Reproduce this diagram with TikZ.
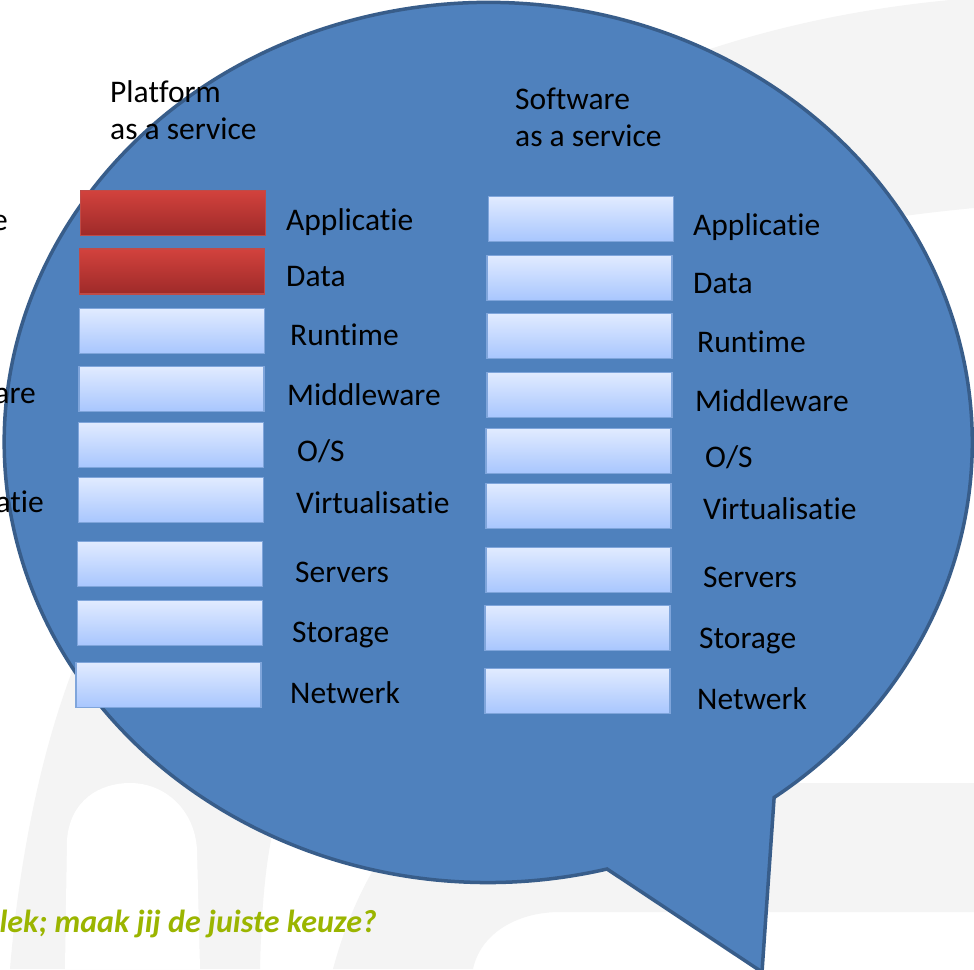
\documentclass[tikz,border=0pt]{standalone}
\usepackage{fontspec}
\setmainfont[RawFeature={-liga;-clig;-calt;-dlig}]{Carlito}
\usetikzlibrary{positioning}

\definecolor{bubblefill}{HTML}{4F81BD}
\definecolor{bubbleline}{HTML}{385D8A}
\definecolor{watermark}{HTML}{F4F4F4}
\definecolor{keuzegreen}{HTML}{9BB500}
\definecolor{layertop}{HTML}{E1EBFF}
\definecolor{layerbot}{HTML}{A8C6FE}
\definecolor{layerline}{HTML}{7FA5DB}
\definecolor{ownedtop}{HTML}{D2423D}
\definecolor{ownedbot}{HTML}{9E2A29}
\definecolor{ownedline}{HTML}{BE4B48}

\tikzset{
  layer/.style={draw=layerline, line width=1.2pt, top color=layertop, bottom color=layerbot,
    minimum width=185pt, minimum height=45pt, inner sep=0pt},
  owned/.style={layer, draw=ownedline, top color=ownedtop, bottom color=ownedbot},
  lbl/.style={anchor=base west, inner sep=0pt, font=\fontsize{31.5}{37}\selectfont},
  bubble/.style={fill=bubblefill, draw=bubbleline, line width=3.5pt, line join=miter},
}

\begin{document}
\begin{tikzpicture}[x=1pt,y=-1pt]
\useasboundingbox[fill=white] (0,0) rectangle (974,969);

% faint logo in the background
\fill[watermark] (640,75) .. controls (760,25) and (880,5) .. (974,-2) -- (974,208)
  .. controls (900,215) and (840,225) .. (800,235) -- cycle;
\fill[watermark] (400,783) -- (974,783) -- (974,912) -- (560,912)
  .. controls (515,912) and (480,935) .. (473,969) -- (333,969)
  .. controls (345,925) and (360,890) .. (385,850) -- cycle;
\fill[watermark] (10,969) .. controls (20,850) and (45,730) .. (85,640) -- (290,640) -- (290,780)
  .. controls (270,820) and (262,880) .. (260,969) -- cycle;
\fill[white] (65,969) -- (67,840) .. controls (70,800) and (100,783) .. (130,783)
  .. controls (165,783) and (195,810) .. (197,850) -- (200,969) -- cycle;

% the balloon
\draw[bubble] (607,869) arc[start angle=75.8, end angle=413.8, x radius=484, y radius=440]
  -- (762,972) -- cycle;

% left-hand column, partly cut off
\node[lbl, anchor=base east] (cut-1) at (8,230) {e};
\node[lbl, anchor=base east] (cut-2) at (36,403) {are};
\node[lbl, anchor=base east] (cut-3) at (44,512) {atie};

% platform as a service
\node[lbl, align=left] (paas-title) at (110,139) {Platform\\as a service};
\foreach \st/\bx/\by/\lx/\ly/\txt [count=\i] in {
  owned/173/213/286/230/Applicatie,
  owned/172/271.5/286/286/Data,
  layer/172/331/290/345/Runtime,
  layer/171.5/389/287/405/Middleware,
  layer/171/445/297/461/{O/S},
  layer/171/500/296/513/Virtualisatie,
  layer/170/564/295/582/Servers,
  layer/170/623/292/642/Storage,
  layer/168.5/685/290/703/Netwerk}
{
  \node[\st] (paas-\i) at (\bx,\by) {};
  \node[lbl] (paas-lbl-\i) at (\lx,\ly) {\txt};
}

% software as a service
\node[lbl, align=left] (saas-title) at (515,146) {Software\\as a service};
\foreach \bx/\by/\lx/\ly/\txt [count=\i] in {
  581/219/693/235/Applicatie,
  579.5/278/693/293/Data,
  579.5/336/697/352/Runtime,
  579.5/395/695/411/Middleware,
  578.5/451/705/467/{O/S},
  578.5/506/703/519/Virtualisatie,
  578.5/570/703/587/Servers,
  577.5/628/699/648/Storage,
  577.5/691/697/709/Netwerk}
{
  \node[layer] (saas-\i) at (\bx,\by) {};
  \node[lbl] (saas-lbl-\i) at (\lx,\ly) {\txt};
}

\node[lbl, anchor=base east, font=\fontsize{32}{37}\selectfont\bfseries\itshape,
  text=keuzegreen] (keuze) at (377,932) {lek; maak jij de juiste keuze?};
\end{tikzpicture}
\end{document}
